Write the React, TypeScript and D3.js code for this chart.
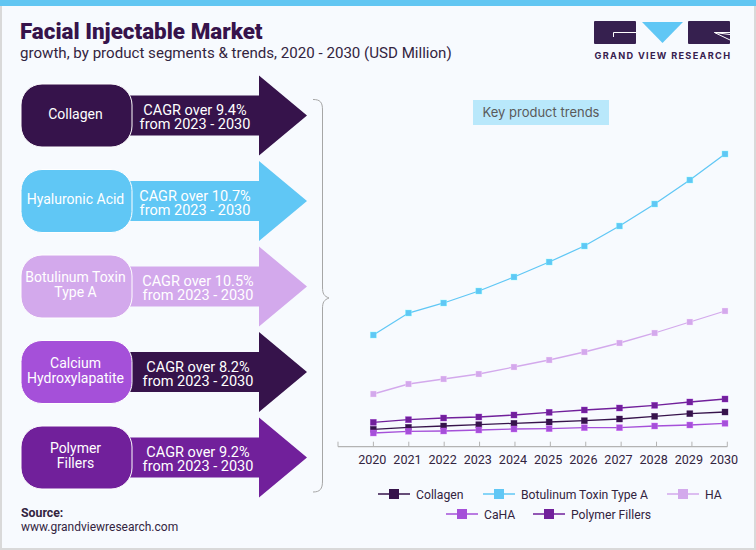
import React, { useEffect, useRef } from 'react';
import * as d3 from 'd3';

const years = [2020, 2021, 2022, 2023, 2024, 2025, 2026, 2027, 2028, 2029, 2030];

// USD million
const collagen = [167, 187, 200, 213, 227, 240, 253, 270, 297, 323, 340];
const botulinum = [1110, 1330, 1430, 1550, 1690, 1840, 2000, 2200, 2420, 2660, 2920];
const ha = [520, 620, 670, 720, 790, 860, 940, 1030, 1130, 1240, 1350];
const caha = [130, 147, 150, 160, 170, 173, 183, 183, 200, 210, 227];
const polymer = [237, 263, 280, 290, 310, 337, 360, 380, 407, 440, 470];

const seriesNames = ['Collagen', 'Botulinum Toxin Type A', 'HA', 'CaHA', 'Polymer Fillers'];
const seriesValues = [collagen, botulinum, ha, caha, polymer];
const seriesColors = ['#36134b', '#60c7f5', '#d3a9ec', '#a550d9', '#71209b'];

const segmentLines = [['Collagen'], ['Hyaluronic Acid'], ['Botulinum Toxin', 'Type A'], ['Calcium', 'Hydroxylapatite'], ['Polymer', 'Fillers']];
const segmentCagr = ['9.4%', '10.7%', '10.5%', '8.2%', '9.2%'];
const pillColors = ['#36134b', '#60c7f5', '#d3a9ec', '#a550d9', '#71209b'];
const arrowColors = ['#36134b', '#60c7f5', '#d3a9ec', '#36134b', '#71209b'];

const font = 'Roboto, sans-serif';
const textDark = '#33243f';

export default function App() {
  const svgRef = useRef<SVGSVGElement>(null);

  useEffect(() => {
    if (!svgRef.current) return;
    const svg = d3.select(svgRef.current);
    svg.selectAll('*').remove();

    // page frame
    svg.append('rect').attr('width', 756).attr('height', 550).attr('fill', '#d9d9d9');
    svg.append('rect').attr('x', 2).attr('y', 0).attr('width', 752).attr('height', 548).attr('fill', '#f7fafe');
    svg.append('rect').attr('width', 756).attr('height', 6).attr('fill', '#62c6f2');

    // header
    svg.append('text').text('Facial Injectable Market')
      .attr('x', 20).attr('y', 39).attr('font-family', font).attr('font-weight', 900)
      .attr('font-size', 22.4).attr('fill', '#36134b');
    svg.append('text').text('growth, by product segments & trends, 2020 - 2030 (USD Million)')
      .attr('x', 20).attr('y', 58).attr('font-family', font)
      .attr('font-size', 15.1).attr('fill', textDark);

    // logo
    svg.append('rect').attr('x', 594).attr('y', 21).attr('width', 42).attr('height', 23).attr('rx', 1).attr('fill', '#36204f');
    svg.append('path').attr('d', 'M613.5 37V32.5H636').attr('fill', 'none').attr('stroke', '#fff').attr('stroke-width', 1);
    svg.append('path').attr('d', 'M642 22H683L662.5 43Z').attr('fill', '#60c7f5');
    svg.append('rect').attr('x', 688).attr('y', 21).attr('width', 42).attr('height', 23).attr('rx', 1).attr('fill', '#36204f');
    svg.append('path').attr('d', 'M730 34.5L714.5 32.5H730M714.5 32.5L730 40').attr('fill', 'none').attr('stroke', '#fff').attr('stroke-width', 1);
    svg.append('text').text('GRAND VIEW RESEARCH')
      .attr('x', 594.5).attr('y', 58.5).attr('font-family', 'Inter, sans-serif').attr('font-weight', 700)
      .attr('font-size', 9.2).attr('letter-spacing', 1.3).attr('fill', '#36204f');

    // left column, one row per segment
    const rowY = d3.scaleLinear().domain([0, 4]).range([115.5, 457.5]);
    const textX = [195, 195, 198, 198, 198];
    const arrow = d3.line();
    segmentLines.forEach((lines, i) => {
      const cy = rowY(i);
      const g = svg.append('g');
      g.append('path')
        .attr('d', arrow([[125, cy - 20], [259, cy - 20], [259, cy - 40], [307, cy], [259, cy + 40], [259, cy + 20], [125, cy + 20]]) + 'Z')
        .attr('fill', arrowColors[i]);
      g.append('rect')
        .attr('x', 21).attr('y', cy - 31.5).attr('width', 111).attr('height', 63).attr('rx', 21)
        .attr('fill', pillColors[i]).attr('stroke', '#fff').attr('stroke-width', 1);

      const name = g.append('text')
        .attr('text-anchor', 'middle').attr('font-family', font).attr('font-size', 14).attr('fill', '#fff');
      lines.forEach((line, j) => {
        name.append('tspan').text(line)
          .attr('x', 75.5).attr('y', cy + 3 + (j - (lines.length - 1) / 2) * 15);
      });

      const cagr = g.append('text')
        .attr('text-anchor', 'middle').attr('font-family', font).attr('font-size', 14.5).attr('fill', '#fff');
      cagr.append('tspan').text(`CAGR over ${segmentCagr[i]}`).attr('x', textX[i]).attr('y', cy - 0.5);
      cagr.append('tspan').text('from 2023 - 2030').attr('x', textX[i]).attr('y', cy + 13.5);
    });

    // brace
    svg.append('path')
      .attr('d', 'M313 99.5C320 99.5 322.5 102 322.5 110V287C322.5 294 324 296 329 298C324 300 322.5 302 322.5 309V481C322.5 489 320 492 313 492')
      .attr('fill', 'none').attr('stroke', '#a6a6a6').attr('stroke-width', 1);

    // key trends label
    svg.append('rect').attr('x', 473).attr('y', 100).attr('width', 136).attr('height', 25).attr('fill', '#b9e8fb');
    svg.append('text').text('Key product trends')
      .attr('x', 541).attr('y', 116.5).attr('text-anchor', 'middle')
      .attr('font-family', 'Inter, sans-serif').attr('font-size', 13).attr('fill', '#5a5a5a');

    // chart
    const x = d3.scalePoint<number>().domain(years).range([373.3, 725]);
    const y = d3.scaleLinear().domain([0, 3000]).range([446, 146]);
    const axisX = d3.scaleLinear().domain([2019, 2030]).range([338, 727.3]);
    const axisY = 446.7;

    const axis = svg.append('g').attr('stroke', '#b3b3b3');
    axis.append('line').attr('x1', axisX(2019)).attr('x2', axisX(2030)).attr('y1', axisY).attr('y2', axisY).attr('stroke-width', 1.2);
    axis.selectAll('line.tick').data(d3.range(2019, 2031)).enter().append('line')
      .attr('class', 'tick')
      .attr('x1', d => axisX(d)).attr('x2', d => axisX(d))
      .attr('y1', axisY - 5).attr('y2', axisY);

    svg.selectAll('text.year').data(years).enter().append('text')
      .attr('class', 'year').text(d => d)
      .attr('x', d => x(d)! - 1).attr('y', 464)
      .attr('text-anchor', 'middle').attr('font-family', font).attr('font-size', 12.6).attr('fill', textDark);

    const line = d3.line<number>()
      .x((_, i) => x(years[i])!)
      .y(d => y(d));

    seriesValues.forEach((values, s) => {
      const g = svg.append('g');
      g.append('path').attr('d', line(values)).attr('fill', 'none')
        .attr('stroke', seriesColors[s]).attr('stroke-width', 1.3);
      g.selectAll('rect').data(values).enter().append('rect')
        .attr('x', (_, i) => x(years[i])! - 3)
        .attr('y', d => y(d) - 3)
        .attr('width', 6).attr('height', 6)
        .attr('fill', seriesColors[s]).attr('stroke', d3.color(seriesColors[s])!.brighter(0.8).formatHex()).attr('stroke-opacity', 0.6).attr('stroke-width', 0.6);
    });

    // legend
    const legendX = [378, 483, 667, 446, 533];
    const legendY = [494, 494, 494, 514, 514];
    seriesNames.forEach((name, s) => {
      const g = svg.append('g').attr('transform', `translate(${legendX[s]},${legendY[s]})`);
      g.append('line').attr('x2', 32).attr('stroke', seriesColors[s]).attr('stroke-width', 1.5);
      g.append('rect').attr('x', 11).attr('y', -5).attr('width', 10).attr('height', 10).attr('fill', seriesColors[s]);
      g.append('text').text(name)
        .attr('x', 38).attr('y', 4.5).attr('font-family', font).attr('font-size', 12.2).attr('fill', textDark);
    });

    // source
    svg.append('text').text('Source:')
      .attr('x', 21).attr('y', 517).attr('font-family', font).attr('font-weight', 700)
      .attr('font-size', 12.3).attr('fill', textDark);
    svg.append('text').text('www.grandviewresearch.com')
      .attr('x', 21).attr('y', 531).attr('font-family', font)
      .attr('font-size', 12).attr('fill', textDark);
  }, []);

  return <svg ref={svgRef} width={756} height={550} style={{ position: 'absolute', left: 0, top: 0 }} />;
}
